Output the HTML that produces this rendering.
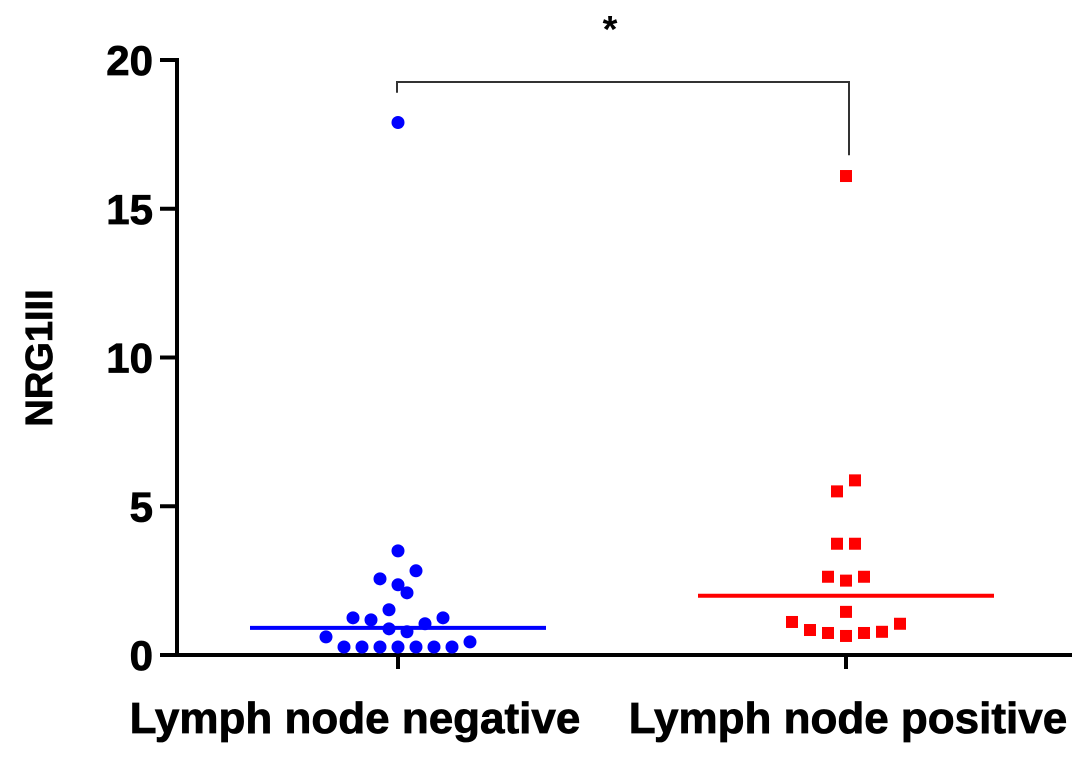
<!DOCTYPE html>
<html><head><meta charset="utf-8"><style>
body{margin:0;background:#fff}
text{font-family:"Liberation Sans",Arial,sans-serif;font-weight:bold}
</style></head><body>
<svg id="chart" width="1087" height="755" xmlns="http://www.w3.org/2000/svg"></svg>
<script>
const categories = ["Lymph node negative","Lymph node positive"];
const negValues = [17.9,3.5,2.83,2.56,2.36,2.09,1.52,1.25,1.18,1.25,1.05,0.88,0.78,0.61,0.44,0.27,0.27,0.27,0.27,0.27,0.27,0.27];
const negJitter = [0,0,0.4,-0.4,0,0.2,-0.2,-1,-0.6,1,0.6,-0.2,0.2,-1.6,1.6,-1.2,-0.8,-0.4,0,0.4,0.8,1.2];
const posValues = [16.1,5.87,5.5,3.74,3.74,2.63,2.5,2.63,1.45,1.11,1.05,0.84,0.74,0.64,0.74,0.78];
const posJitter = [0,0.2,-0.2,-0.2,0.2,-0.4,0,0.4,0,-1.2,1.2,-0.8,-0.4,0,0.4,0.8];
const means = [0.91,1.99];
const yTicks = [0,5,10,15,20];
const svg = document.getElementById('chart');
const NS = 'http://www.w3.org/2000/svg';
const x0 = 177, x1 = 1072, yTop = 60, yBot = 655, yMax = 20;
const catX = [398, 846];
const jitterUnit = 45;
function yS(v){ return yBot - (v / yMax) * (yBot - yTop); }
function xS(i, j){ return catX[i] + j * jitterUnit; }
function mk(tag, attrs, parent){ const e = document.createElementNS(NS, tag); for (const k in attrs) e.setAttribute(k, attrs[k]); (parent || svg).appendChild(e); return e; }

let e = mk('line', {x1:x0, y1:yTop-2, x2:x0, y2:yBot+2, stroke:'#000', 'stroke-width':4});


e = mk('line', {x1:x0-2, y1:yBot, x2:x1, y2:yBot, stroke:'#000', 'stroke-width':4});


yTicks.forEach(t => {
  const y = yS(t);
  let l = mk('line', {x1:x0-17, y1:y, x2:x0, y2:y, stroke:'#000', 'stroke-width':4});
  
  
  let tx = mk('text', {x:x0-24, y:y+15, 'text-anchor':'end', 'font-size':42, stroke:'#000', 'stroke-width':0.8});
  tx.textContent = t;
  
  
});
categories.forEach((c, i) => {
  let l = mk('line', {x1:catX[i], y1:yBot, x2:catX[i], y2:yBot+14, stroke:'#000', 'stroke-width':4});
  
  
  let tx = mk('text', {x:catX[i]+(i===0?-43:0)+(i===0?0:2), y:733, 'text-anchor':'middle', 'font-size':44, stroke:'#000', 'stroke-width':0.8});
  tx.textContent = c;
  
  
});
e = mk('text', {x:0, y:0, 'text-anchor':'middle', 'font-size':38, stroke:'#000', 'stroke-width':0.8, transform:'translate(52,358) rotate(-90)'});
e.textContent = 'NRG1III';



e = mk('polyline', {points:`${catX[0]-1},${yS(18.9)} ${catX[0]-1},${82} ${catX[1]+3},82 ${catX[1]+3},${yS(16.8)}`, fill:'none', stroke:'#333', 'stroke-width':2});


e = mk('text', {x:610, y:42, 'text-anchor':'middle', 'font-size':38, 'font-weight':'normal'});
e.textContent = '*';



negValues.forEach((v, k) => {
  let c = mk('circle', {cx:xS(0, negJitter[k]), cy:yS(v), r:6.5, fill:'#0000ff'});
  
  
});
posValues.forEach((v, k) => {
  let r = mk('rect', {x:xS(1, posJitter[k])-6, y:yS(v)-6, width:12, height:12, fill:'#ff0000'});
  
  
});
const meanColors = ['#0000ff','#ff0000'];
means.forEach((m, i) => {
  let l = mk('line', {x1:catX[i]-148, y1:yS(m), x2:catX[i]+148, y2:yS(m), stroke:meanColors[i], 'stroke-width':4});
  
  
});
</script>
</body></html>
